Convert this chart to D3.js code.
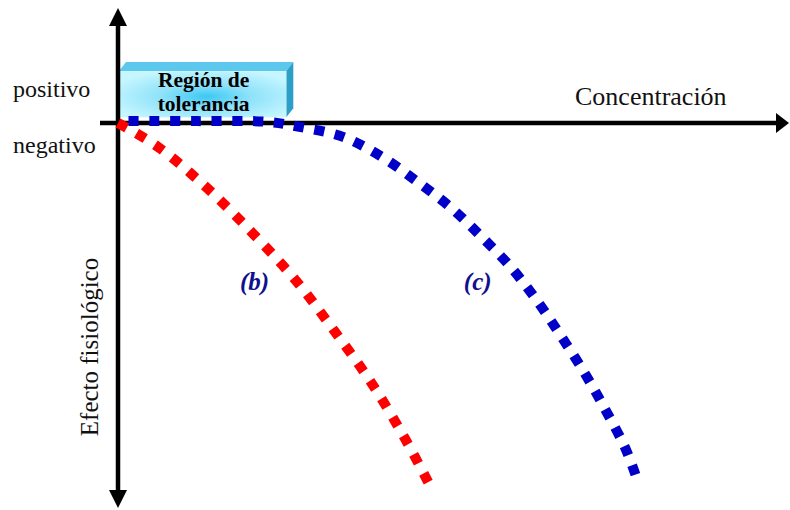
<!DOCTYPE html>
<html><head><meta charset="utf-8">
<script src="https://cdn.jsdelivr.net/npm/d3@7"></script>
<style>body{margin:0;background:#fff}svg{display:block}</style>
</head><body><svg id="c" width="790" height="510"></svg>
<script>
// ---- data ----
const curveLabels = ["(b)", "(c)"];
const redX  = [0, 0.61, 1.35, 2.05, 2.70, 3.29, 3.85, 4.35, 4.70];
const redY  = [0, -0.64, -1.73, -2.95, -4.20, -5.56, -6.94, -8.40, -9.55];
const blueX = [0, 1.21, 2.27, 2.77, 3.41, 3.98, 4.52, 5.03, 5.50, 5.95, 6.35, 6.71, 7.06, 7.38, 7.68, 7.84];
const blueY = [0.05, 0.05, 0.03, -0.11, -0.37, -0.88, -1.54, -2.23, -3.01, -3.83, -4.73, -5.66, -6.62, -7.61, -8.62, -9.35];
const labelPos = [[2.07, -4.45], [5.45, -4.45]];
const regionX = [0, 2.55];
const regionY = [0.15, 1.38];
const yLabels = ["positivo", "negativo"];
const xTitle = "Concentración";
const yTitle = "Efecto fisiológico";
const regionText = ["Región de", "tolerancia"];

// ---- scales ----
const svg = d3.select("#c");
const x = d3.scaleLinear().domain([0, 10]).range([118, 778]);
const y = d3.scaleLinear().domain([0, -10]).range([123, 499]);

// ---- tolerance box (3D) ----
const defs = svg.append("defs");
const rg = defs.append("radialGradient").attr("id", "g1")
  .attr("cx", "52%").attr("cy", "55%").attr("r", "60%");
rg.append("stop").attr("offset", "0%").attr("stop-color", "#3cc8f2");
rg.append("stop").attr("offset", "45%").attr("stop-color", "#8fe2fa");
rg.append("stop").attr("offset", "100%").attr("stop-color", "#c6f6ff");
const bx0 = x(regionX[0]) + 1, bx1 = x(regionX[1]);
const by0 = y(regionY[1]), by1 = y(regionY[0]);
const dx = 7, dy = 9;
svg.append("polygon")
  .attr("points", [[bx0, by0], [bx0 + dx, by0 - dy], [bx1 + dx, by0 - dy], [bx1, by0]].join(" "))
  .attr("fill", "#5cc8ee");
svg.append("polygon")
  .attr("points", [[bx1, by0], [bx1 + dx, by0 - dy], [bx1 + dx, by1 - dy], [bx1, by1]].join(" "))
  .attr("fill", "#2c9fc8");
svg.append("rect").attr("x", bx0).attr("y", by0).attr("width", bx1 - bx0).attr("height", by1 - by0)
  .attr("fill", "url(#g1)");
svg.append("g").selectAll("text").data(regionText).join("text")
  .attr("x", (bx0 + bx1) / 2 + 1).attr("y", (d, i) => 87 + i * 24)
  .attr("text-anchor", "middle")
  .attr("font-family", "Liberation Serif").attr("font-weight", "bold").attr("font-size", 21.5)
  .attr("fill", "#000").text(d => d);

// ---- axes ----
const ax = svg.append("g").attr("fill", "#000").attr("stroke", "#000");
const ox = x.range()[0], oy = y.range()[0];
ax.append("line").attr("x1", ox - 18).attr("x2", x.range()[1]).attr("y1", oy).attr("y2", oy).attr("stroke-width", 4.5);
ax.append("polygon").attr("stroke", "none")
  .attr("points", [[x.range()[1] - 2, oy - 10], [x.range()[1] + 11, oy], [x.range()[1] - 2, oy + 10]].join(" "));
ax.append("line").attr("x1", ox).attr("x2", ox).attr("y1", 22).attr("y2", 494).attr("stroke-width", 4.5);
ax.append("polygon").attr("stroke", "none")
  .attr("points", [[ox - 9, 26], [ox, 8], [ox + 9, 26]].join(" "));
ax.append("polygon").attr("stroke", "none")
  .attr("points", [[ox - 9, 490], [ox, 508], [ox + 9, 490]].join(" "));

// ---- text labels ----
svg.append("g").selectAll("text").data(yLabels).join("text")
  .attr("x", 13).attr("y", (d, i) => i === 0 ? 97 : 153)
  .attr("font-family", "Liberation Serif").attr("font-size", 24).attr("fill", "#111")
  .text(d => d);
svg.append("text").attr("x", 575).attr("y", 105)
  .attr("font-family", "Liberation Serif").attr("font-size", 26).attr("fill", "#111").text(xTitle);
svg.append("text").attr("transform", "translate(98,347) rotate(-90)")
  .attr("text-anchor", "middle")
  .attr("font-family", "Liberation Serif").attr("font-size", 25).attr("fill", "#111").text(yTitle);

// ---- curves ----
const line = d3.line().x(d => x(d[0])).y(d => y(d[1])).curve(d3.curveCatmullRom);
const bluePath = svg.append("path").datum(blueX.map((v, i) => [v, blueY[i]]))
  .attr("d", line).attr("fill", "none").attr("stroke", "#0000c8").attr("stroke-width", 10);
const redPath = svg.append("path").datum(redX.map((v, i) => [v, redY[i]]))
  .attr("d", line).attr("fill", "none").attr("stroke", "#ff0000").attr("stroke-width", 10);

// blue: starts with a gap, ends with a full dash
{
  const L = bluePath.node().getTotalLength();
  const n = Math.round(L / 21);
  const gap = L / n - 10;
  bluePath.attr("stroke-dasharray", `10 ${gap}`).attr("stroke-dashoffset", 10);
}
// red: starts and ends with a full dash
{
  const L = redPath.node().getTotalLength();
  const n = Math.round((L + 11) / 21);
  const gap = (L - n * 10) / (n - 1);
  redPath.attr("stroke-dasharray", `10 ${gap}`);
}

svg.append("g").selectAll("text").data(curveLabels).join("text")
  .attr("x", (d, i) => x(labelPos[i][0])).attr("y", (d, i) => y(labelPos[i][1]))
  .attr("text-anchor", "middle")
  .attr("font-family", "Liberation Serif").attr("font-weight", "bold").attr("font-style", "italic")
  .attr("font-size", 25).attr("fill", "#10108e").text(d => d);
</script></body></html>
